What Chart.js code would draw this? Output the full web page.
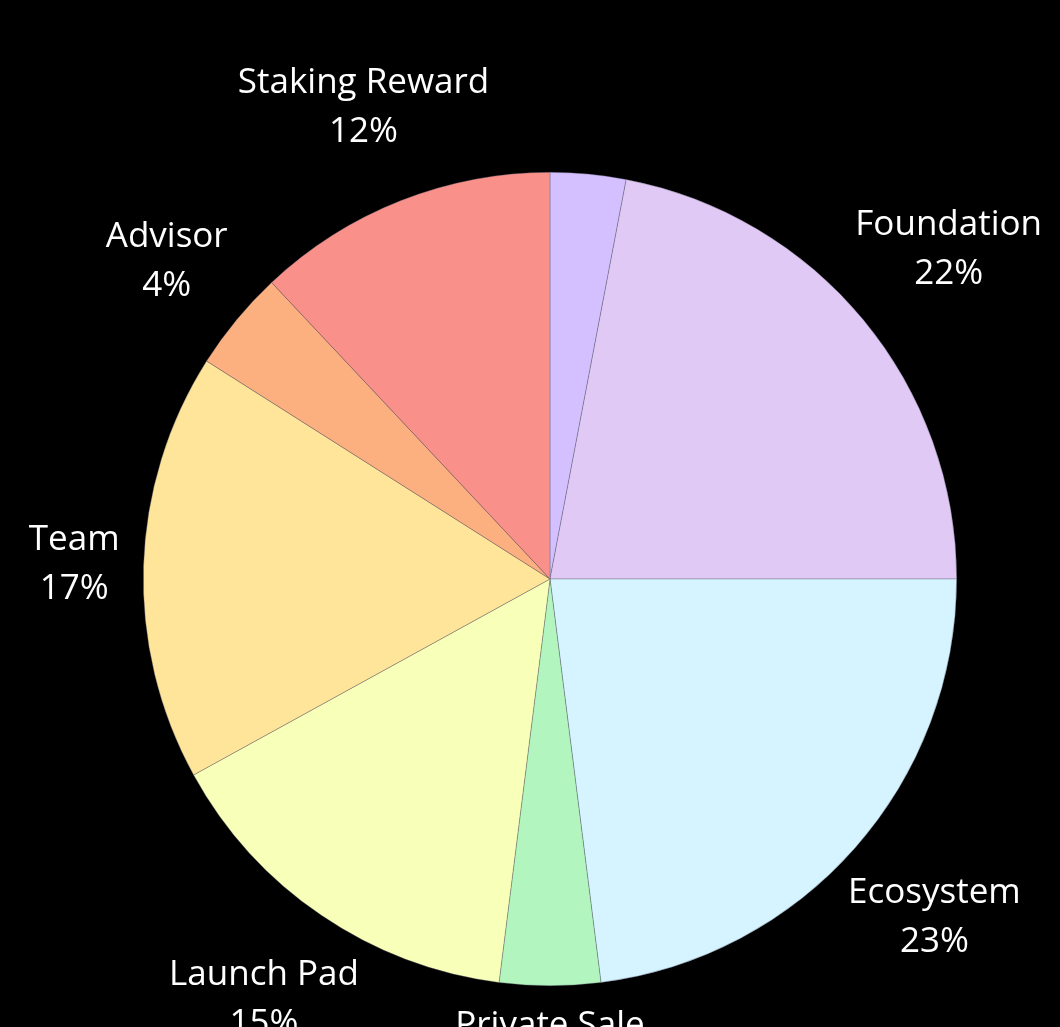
<!DOCTYPE html>
<html>
<head>
<meta charset="utf-8">
<script src="https://cdn.jsdelivr.net/npm/chart.js"></script>
<style>
  html, body { margin: 0; padding: 0; background: #000; overflow: hidden; }
  #wrap { width: 1060px; height: 1027px; }
</style>
</head>
<body>
<div id="wrap"><canvas id="pie"></canvas></div>
<script>
// token allocation
const categories = ['Public Sale', 'Foundation', 'Ecosystem', 'Private Sale', 'Launch Pad', 'Team', 'Advisor', 'Staking Reward'];
const shares = [3, 22, 23, 4, 15, 17, 4, 12];
const sliceColors = ['#D4BFFF', '#E1C9F6', '#D5F4FF', '#B3F5BF', '#F8FFB8', '#FFE59A', '#FDB07F', '#F9918A'];
const showLabel = [false, true, true, true, true, true, true, true];

const labelFont = '400 35px "Open Sans", sans-serif';

// draws "name / pct" outside each slice
const outerLabels = {
  id: 'outerLabels',
  afterDraw(chart) {
    const ctx = chart.ctx;
    const meta = chart.getDatasetMeta(0);
    ctx.save();
    ctx.font = labelFont;
    ctx.fillStyle = '#fff';
    ctx.textAlign = 'center';
    ctx.textBaseline = 'middle';
    const lineH = 49;
    meta.data.forEach((arc, i) => {
      if (!showLabel[i]) return;
      const name = chart.data.labels[i];
      const pct = shares[i] + '%';
      const w = Math.max(ctx.measureText(name).width, ctx.measureText(pct).width);
      const h = lineH + 34;
      const a = (arc.startAngle + arc.endAngle) / 2;
      const c = Math.cos(a), s = Math.sin(a);
      const proj = Math.abs(c) * w / 2 + Math.abs(s) * h / 2;
      const r = arc.outerRadius + 32 + 0.8 * proj;
      const x = arc.x + c * r, y = arc.y + s * r;
      ctx.fillText(name, x, y - lineH / 2);
      ctx.fillText(pct, x, y + lineH / 2);
    });
    ctx.restore();
  }
};

new Chart(document.getElementById('pie'), {
  type: 'pie',
  data: {
    labels: categories,
    datasets: [{
      data: shares,
      backgroundColor: sliceColors,
      borderColor: 'rgba(90,90,110,0.6)',
      borderWidth: 0.6
    }]
  },
  options: {
    responsive: true,
    maintainAspectRatio: false,
    animation: false,
    layout: { padding: { top: 172, bottom: 41, left: 40, right: 0 } },
    plugins: {
      legend: { display: false },
      tooltip: { enabled: false }
    }
  },
  plugins: [outerLabels]
});
</script>
</body>
</html>
